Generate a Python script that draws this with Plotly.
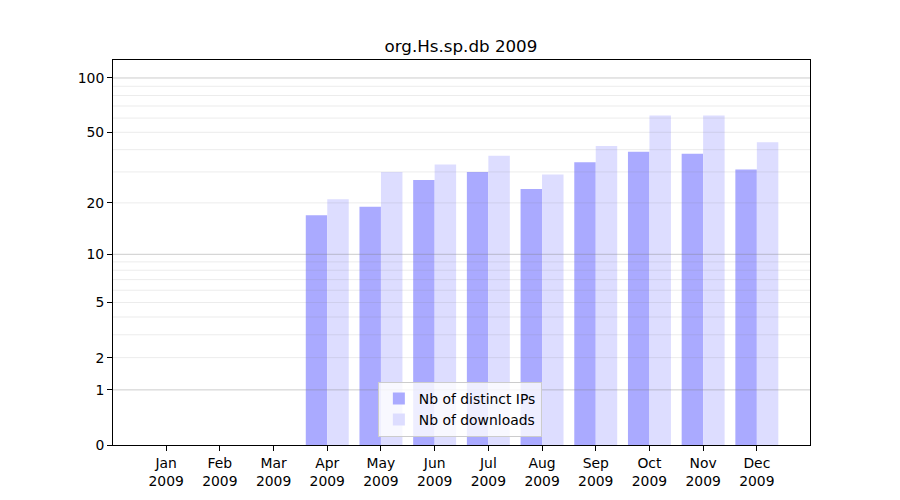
import math
import plotly.graph_objects as go

months = ["Jan", "Feb", "Mar", "Apr", "May", "Jun", "Jul", "Aug", "Sep", "Oct", "Nov", "Dec"]
year = "2009"
distinct_ips = [0, 0, 0, 17, 19, 27, 30, 24, 34, 39, 38, 31]
downloads = [0, 0, 0, 21, 30, 33, 37, 29, 42, 62, 62, 44]
ytick_values = [0, 1, 2, 5, 10, 20, 50, 100]
major_grid = [1, 10, 100]
minor_grid = [2, 3, 4, 5, 6, 7, 8, 9, 20, 30, 40, 50, 60, 70, 80, 90]


def tr(v):
    return math.log10(1 + v)


labels = [f"{m}<br>{year}" for m in months]
font = "DejaVu Sans"

fig = go.Figure()
fig.add_trace(go.Bar(x=labels, y=[tr(v) for v in distinct_ips], name="Nb of distinct IPs",
                     marker=dict(color="#aaaaff", line=dict(width=0)),
                     customdata=distinct_ips, hovertemplate="%{customdata}"))
fig.add_trace(go.Bar(x=labels, y=[tr(v) for v in downloads], name="Nb of downloads",
                     marker=dict(color="#ddddff", line=dict(width=0)),
                     customdata=downloads, hovertemplate="%{customdata}"))

shapes = []
for v in minor_grid:
    shapes.append(dict(type="line", xref="paper", yref="y", x0=0, x1=1, y0=tr(v), y1=tr(v),
                       line=dict(color="rgba(128,128,128,0.15)", width=1), layer="above"))
for v in major_grid:
    shapes.append(dict(type="line", xref="paper", yref="y", x0=0, x1=1, y0=tr(v), y1=tr(v),
                       line=dict(color="rgba(128,128,128,0.4)", width=1), layer="above"))

fig.update_layout(
    width=900, height=500,
    margin=dict(l=105, r=98, t=52, b=63),
    paper_bgcolor="white", plot_bgcolor="white",
    barmode="group", bargap=0.2, bargroupgap=0,
    font=dict(family=font, size=13.9, color="black"),
    title=dict(text="org.Hs.sp.db 2009", x=0.5033, xanchor="center", y=0.924, yanchor="middle",
               font=dict(family=font, size=16.7, color="black")),
    shapes=shapes,
    legend=dict(x=0.38, y=0.021, xanchor="left", yanchor="bottom",
                bgcolor="rgba(255,255,255,0.8)", bordercolor="#cccccc", borderwidth=1,
                font=dict(family=font, size=13.9, color="black"), tracegroupgap=0,
                itemwidth=30),
    xaxis=dict(range=[-0.99, 11.99], showgrid=False, showline=True, linecolor="black", linewidth=1,
               mirror=True, ticks="outside", ticklen=5, tickcolor="black", zeroline=False,
               tickfont=dict(family=font, size=13.9, color="black")),
    yaxis=dict(range=[0, 2.1025], showgrid=False, showline=True, linecolor="black", linewidth=1,
               mirror=True, ticks="outside", ticklen=5, tickcolor="black", zeroline=False,
               tickvals=[tr(v) for v in ytick_values], ticktext=[str(v) for v in ytick_values],
               tickfont=dict(family=font, size=13.9, color="black")),
)

fig.write_html("out.html")
